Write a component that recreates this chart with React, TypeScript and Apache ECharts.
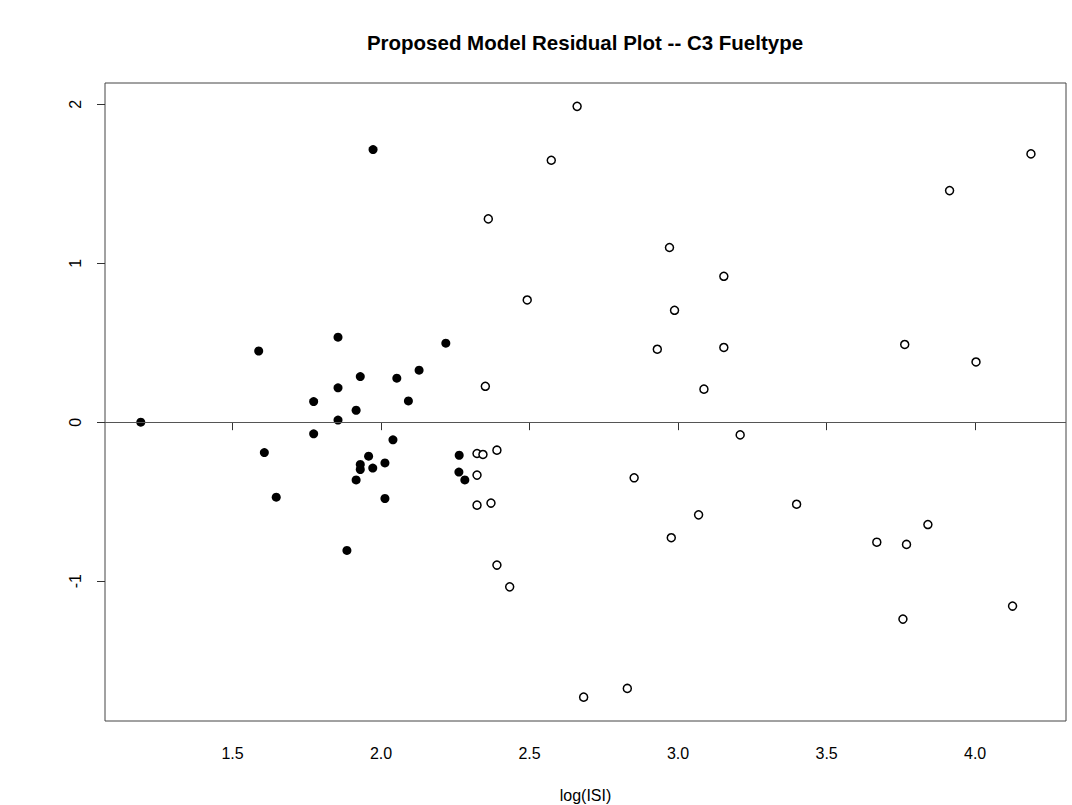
import React, { useEffect, useRef } from "react";
import * as echarts from "echarts";

// Fueltype C3 residuals (filled points)
const c3X = [1.973, 1.855, 1.588, 2.218, 2.128, 1.930, 2.053, 1.855, 1.773, 2.092, 1.916,
  1.191, 1.855, 1.773, 1.607, 2.040, 1.958, 1.930, 1.930, 1.972, 2.013, 1.916, 1.647, 2.013, 1.885,
  2.263, 2.262, 2.282];
const c3Y = [1.715, 0.535, 0.448, 0.497, 0.327, 0.287, 0.277, 0.216, 0.130, 0.134, 0.075,
  0.0, 0.013, -0.073, -0.191, -0.111, -0.214, -0.266, -0.298, -0.289, -0.256, -0.363, -0.472, -0.480, -0.807,
  -0.208, -0.314, -0.363];

// Other observations (open points)
const otherX = [2.660, 2.573, 2.361, 2.971, 3.154, 2.492, 2.988, 2.930, 3.154, 2.351, 3.087,
  2.323, 2.343, 2.390, 2.323, 2.323, 2.370, 2.390, 2.433, 2.682, 2.829, 3.209, 2.852, 3.069, 2.977,
  4.188, 3.914, 3.763, 4.003,
  3.399, 3.841, 3.669, 3.769, 3.757, 4.126];
const otherY = [1.987, 1.648, 1.279, 1.099, 0.918, 0.769, 0.704, 0.459, 0.470, 0.226, 0.208,
  -0.197, -0.203, -0.176, -0.333, -0.522, -0.509, -0.899, -1.036, -1.730, -1.675, -0.080, -0.350, -0.583, -0.727,
  1.688, 1.457, 0.489, 0.379,
  -0.516, -0.644, -0.755, -0.769, -1.239, -1.157];

const xTicks = [1.5, 2.0, 2.5, 3.0, 3.5, 4.0];
const yTicks = [-1, 0, 1, 2];

const TITLE = "Proposed Model Residual Plot -- C3 Fueltype";
const X_NAME = "log(ISI)";

const FONT = "'Liberation Sans', Arial, Helvetica, sans-serif";

export default function App() {
  const ref = useRef<HTMLDivElement>(null);
  useEffect(() => {
    if (!ref.current) return;
    const chart = echarts.init(ref.current, undefined, { renderer: "svg" });
    const filled = c3X.map((x, i) => [x, c3Y[i]]);
    const open = otherX.map((x, i) => [x, otherY[i]]);
    chart.setOption({
      animation: false,
      backgroundColor: "#ffffff",
      textStyle: { fontFamily: FONT },
      grid: {
        left: 105,
        top: 83,
        width: 961,
        height: 638,
        outerBoundsMode: "none",
        containLabel: false,
        show: true,
        borderColor: "#444",
        borderWidth: 1,
        backgroundColor: "transparent",
      },
      graphic: [
        {
          type: "text",
          x: 585,
          y: 42,
          style: {
            text: TITLE,
            fill: "#000",
            font: `bold 20.5px ${FONT}`,
            textAlign: "center",
            textVerticalAlign: "middle",
          },
        },
      ],
      xAxis: {
        type: "value",
        min: 1.0705,
        max: 4.306,
        name: X_NAME,
        nameLocation: "middle",
        nameGap: 66,
        nameTextStyle: { color: "#000", fontSize: 16, fontFamily: FONT },
        axisLine: { show: false },
        splitLine: { show: false },
        axisTick: {
          show: true,
          inside: false,
          length: 8,
          customValues: xTicks,
          lineStyle: { color: "#333", width: 1 },
        },
        axisLabel: {
          show: true,
          customValues: xTicks,
          margin: 24,
          color: "#000",
          fontSize: 16,
          fontFamily: FONT,
          formatter: (v: number) => v.toFixed(1),
        },
      },
      yAxis: {
        type: "value",
        min: -1.88,
        max: 2.134,
        axisLine: { show: false },
        splitLine: { show: false },
        axisTick: {
          show: true,
          inside: false,
          length: 8,
          customValues: yTicks,
          lineStyle: { color: "#333", width: 1 },
        },
        axisLabel: {
          show: true,
          customValues: yTicks,
          rotate: 90,
          margin: 22,
          color: "#000",
          fontSize: 16,
          fontFamily: FONT,
          formatter: (v: number) => String(v),
        },
      },
      series: [
        {
          type: "scatter",
          name: "other",
          data: open,
          symbol: "circle",
          symbolSize: 8,
          itemStyle: { color: "#fff", borderColor: "#000", borderWidth: 1.5, opacity: 1 },
          markLine: {
            silent: true,
            symbol: ["none", "none"],
            label: { show: false },
            lineStyle: { color: "#555", width: 1, type: "solid" },
            data: [{ yAxis: 0 }],
          },
          z: 3,
        },
        {
          type: "scatter",
          name: "C3",
          data: filled,
          symbol: "circle",
          symbolSize: 9,
          itemStyle: { color: "#000", opacity: 1 },
          z: 4,
        },
      ],
    });
    return () => chart.dispose();
  }, []);
  return (
    <div
      ref={ref}
      style={{ position: "fixed", left: 0, top: 0, width: 1072, height: 805, background: "#fff" }}
    />
  );
}
